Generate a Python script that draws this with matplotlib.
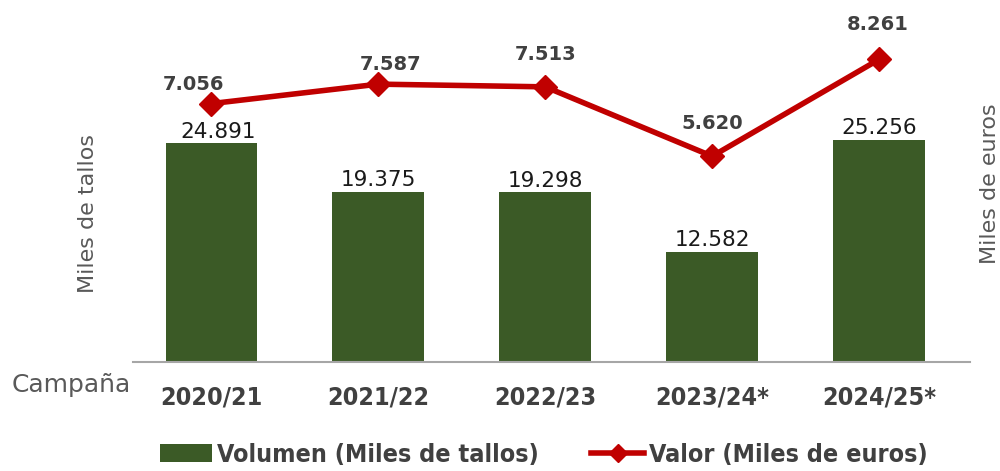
import matplotlib.pyplot as plt
from matplotlib.lines import Line2D
from matplotlib.patches import Patch

campaigns = ["2020/21", "2021/22", "2022/23", "2023/24*", "2024/25*"]
volumen = [24.891, 19.375, 19.298, 12.582, 25.256]   # miles de tallos
valor = [7.056, 7.587, 7.513, 5.620, 8.261]          # miles de euros

GREEN = "#3B5A26"
RED = "#C00000"
DARK = "#404040"
GRAY = "#595959"
NARROW = ["DejaVu Sans Condensed", "Liberation Sans Narrow", "DejaVu Sans"]


def fmt(v):
    return f"{v:.3f}"


fig = plt.figure(figsize=(10, 4.71), dpi=100)
ax = fig.add_axes([0.133, 0.231, 0.837, 0.747])
ax2 = ax.twinx()

x = list(range(len(campaigns)))
bars = ax.bar(x, volumen, width=0.55, color=GREEN, zorder=2)
ax2.plot(x, valor, color=RED, lw=4, marker="D", ms=12, zorder=3)

ax.set_xlim(-0.47, 4.545)
ax.set_ylim(0, 40)
ax2.set_ylim(0, 9.6)

# label nudges in points (the source chart had hand-placed labels)
bar_offsets = [(5, 4), (0, 4), (0, 4), (0, 4), (0, 4)]
for b, v, off in zip(bars, volumen, bar_offsets):
    ax.annotate(fmt(v), (b.get_x() + b.get_width() / 2, v), xytext=off,
                textcoords="offset points", ha="center", va="baseline",
                fontsize=15.5, family="DejaVu Sans", color="#1a1a1a")

line_offsets = [(-13, 10), (8.5, 10), (0.5, 19.5), (0, 19.5), (-1, 21)]
for xi, v, off in zip(x, valor, line_offsets):
    ax2.annotate(fmt(v), (xi, v), xytext=off, textcoords="offset points",
                 ha="center", va="baseline", fontsize=14, fontweight="bold",
                 family="DejaVu Sans", color=DARK)

for a in (ax, ax2):
    for s in ("top", "left", "right"):
        a.spines[s].set_visible(False)
    a.set_yticks([])
ax.spines["bottom"].set_color("#A6A6A6")
ax.spines["bottom"].set_linewidth(1.5)
ax2.spines["bottom"].set_visible(False)

ax.set_xticks(x)
ax.set_xticklabels(campaigns, fontsize=18, fontweight="bold", family=NARROW,
                   fontstretch="condensed", color=DARK)
ax.tick_params(axis="x", length=0, pad=17)

fig.text(0.071, 0.183, "Campaña", fontsize=18, family="DejaVu Sans",
         color=GRAY, ha="center", va="center")
fig.text(0.088, 0.546, "Miles de tallos", fontsize=16, family="DejaVu Sans",
         color=GRAY, rotation=90, ha="center", va="center")
fig.text(0.99, 0.611, "Miles de euros", fontsize=16, family="DejaVu Sans",
         color=GRAY, rotation=90, ha="center", va="center")

handles = [Patch(facecolor=GREEN),
           Line2D([0], [0], color=RED, lw=4, marker="D", ms=9)]
fig.legend(handles, ["Volumen (Miles de tallos)", "Valor (Miles de euros)"],
           loc="center", bbox_to_anchor=(0.5435, 0.034), ncol=2,
           frameon=False,
           prop={"family": NARROW, "weight": "bold", "size": 18,
                 "stretch": "condensed"},
           labelcolor=DARK, handlelength=2.1, handletextpad=0.2,
           columnspacing=2.1)

fig.savefig("out.png", dpi=100)
